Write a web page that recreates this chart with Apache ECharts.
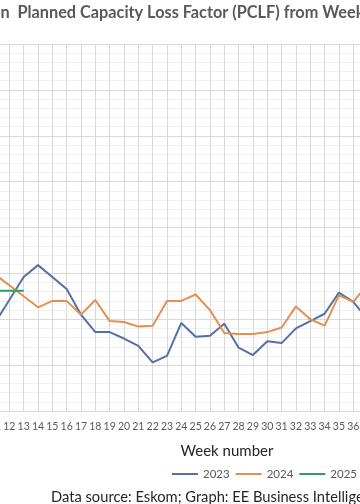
<!DOCTYPE html>
<html>
<head>
<meta charset="utf-8">
<script src="https://cdn.jsdelivr.net/npm/echarts@6/dist/echarts.min.js"></script>
<style>
html,body{margin:0;padding:0;background:#fff;}
#c{width:360px;height:504px;}
</style>
</head>
<body>
<div id="c"></div>
<script>
// Data
var weeks = ['11','12','13','14','15','16','17','18','19','20','21','22','23','24','25','26','27','28','29','30','31','32','33','34','35','36','37'];
var pclf2023 = [9.6,12.1,14.6,15.9,14.6,13.3,10.5,8.6,8.6,7.9,7.1,5.3,6.0,9.6,8.1,8.2,9.5,6.9,6.1,7.6,7.4,9.0,9.8,10.6,12.9,11.9,10.0];
var pclf2024 = [14.9,13.7,12.5,11.3,12.0,12.0,10.5,12.1,9.8,9.7,9.2,9.3,12.0,12.0,12.7,11.0,8.5,8.4,8.4,8.6,9.1,11.4,10.0,9.3,12.6,11.9,13.8];
var pclf2025 = [13.1,13.1,13.1,null,null,null,null,null,null,null,null,null,null,null,null,null,null,null,null,null,null,null,null,null,null,null,null];
var seriesNames = ['2023','2024','2025'];
var titlePrefix = 'Eskom Generation  ';
var titleMain = 'Planned Capacity Loss Factor (PCLF) from Week 1 to Week 36';
var xAxisTitle = 'Week number';
var sourceText = 'Data source: Eskom; Graph: EE Business Intelligence';

function measure(text, font){
  var ctx = document.createElement('canvas').getContext('2d');
  ctx.font = font;
  return ctx.measureText(text).width;
}
var titleFam = 'Lato';
var wRef = measure('Planned Capacity Loss Factor (PCLF) from ', 'bold 100px ' + titleFam);
var titleSize = 305 / wRef * 100;
var prefixW = measure(titlePrefix, 'bold ' + titleSize + 'px ' + titleFam);
var titleX = 17.5 - prefixW;

var srcFam = 'Lato';
var wSrc = measure('Data source: Eskom; Graph: EE Business ', '100px ' + srcFam);
var srcSize = 262 / wSrc * 100;

var chart = echarts.init(document.getElementById('c'), null, {renderer:'canvas'});
var colors = ['#5470A8','#E38F52','#2E9E62'];
chart.setOption({
  animation:false,
  backgroundColor:'#fff',
  color:colors,
  grid:{left:-5, right:-7.6, top:44, bottom:93, containLabel:false, outerBoundsMode:'none'},
  xAxis:{
    type:'category', data:weeks, boundaryGap:false,
    axisLine:{show:true, lineStyle:{color:'#d9d9d9', width:1}},
    axisTick:{show:false},
    splitLine:{show:true, lineStyle:{color:'#d9d9d9', width:1}},
    axisLabel:{interval:0, color:'#595959', fontSize:10.5, fontFamily:'Lato', margin:10, hideOverlap:false}
  },
  yAxis:{
    type:'value', min:0, max:40, interval:5,
    axisLabel:{show:false}, axisLine:{show:false}, axisTick:{show:false},
    splitLine:{show:true, lineStyle:{color:'#d9d9d9', width:1}},
    minorTick:{show:false, splitNumber:5},
    minorSplitLine:{show:true, lineStyle:{color:'#f0f0f0', width:1}}
  },
  legend:{
    data:seriesNames, left:167, top:463, width:400, icon:'rect', itemWidth:26, itemHeight:2, itemGap:6,
    textStyle:{color:'#595959', fontSize:11.5, fontFamily:'Lato'}
  },
  series:[
    {name:seriesNames[0], type:'line', data:pclf2023, symbol:'none', lineStyle:{width:2}},
    {name:seriesNames[1], type:'line', data:pclf2024, symbol:'none', lineStyle:{width:2}},
    {name:seriesNames[2], type:'line', data:pclf2025, symbol:'none', lineStyle:{width:2}}
  ],
  graphic:[
    {type:'text', left:titleX, top:5, style:{text:titlePrefix + titleMain, font:'bold ' + titleSize.toFixed(2) + 'px ' + titleFam, fill:'#595959'}},
    {type:'text', x:227, y:451, style:{text:xAxisTitle, font:'15px Lato', fill:'#262626', textAlign:'center', textVerticalAlign:'middle'}},
    {type:'text', x:51, y:497.5, style:{text:sourceText, font:srcSize.toFixed(2) + 'px ' + srcFam, fill:'#262626', textAlign:'left', textVerticalAlign:'middle'}}
  ]
});
</script>
</body>
</html>
